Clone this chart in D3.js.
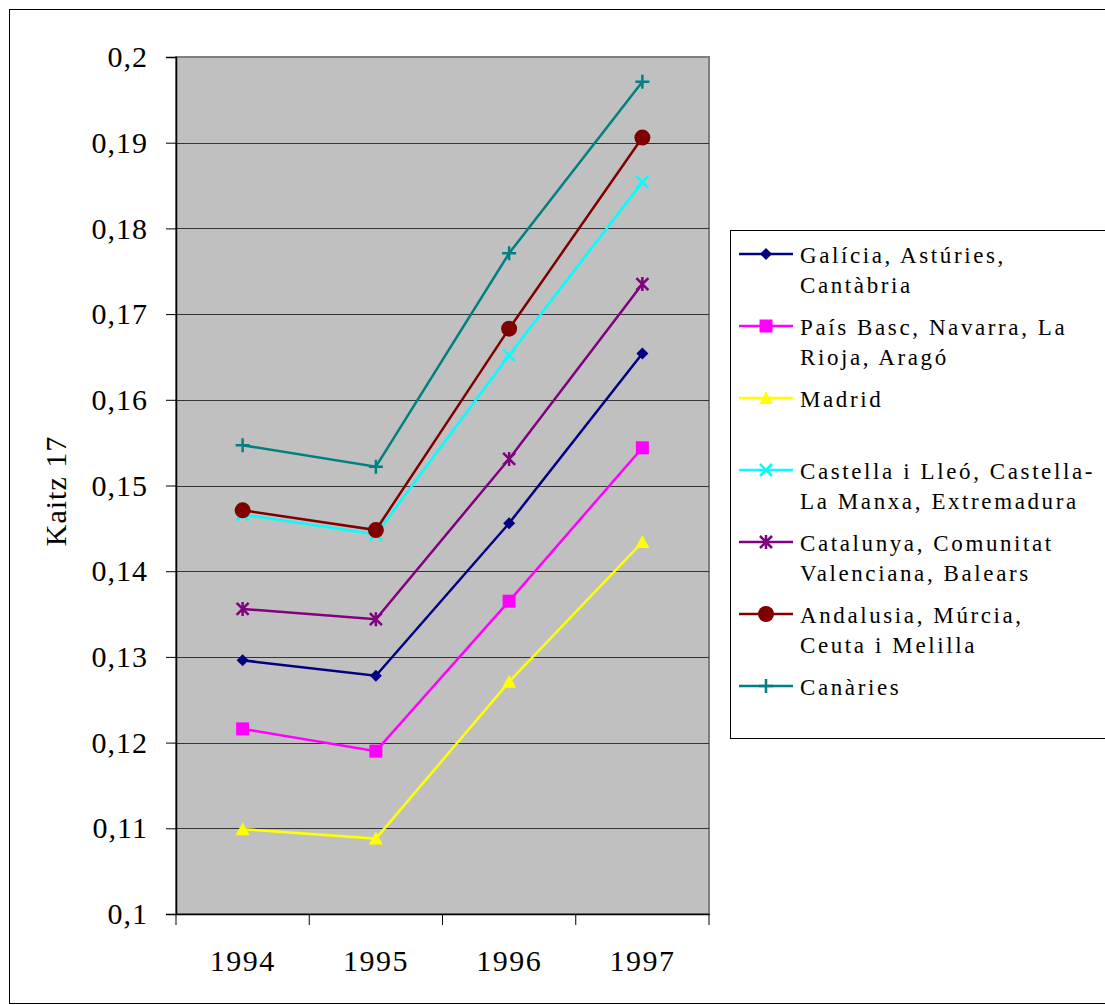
<!DOCTYPE html>
<html><head><meta charset="utf-8">
<script src="https://cdn.jsdelivr.net/npm/d3@7"></script>
<style>body{margin:0;background:#fff} svg text{font-family:'Liberation Serif','Times New Roman',Times,serif !important;}</style>
</head><body>
<script>
const years = ["1994","1995","1996","1997"];
const seriesNames = [
  ["Galícia, Astúries,","Cantàbria"],
  ["País Basc, Navarra, La","Rioja, Aragó"],
  ["Madrid",""],
  ["Castella i Lleó, Castella-","La Manxa, Extremadura"],
  ["Catalunya, Comunitat","Valenciana, Balears"],
  ["Andalusia, Múrcia,","Ceuta i Melilla"],
  ["Canàries",""]
];
const galicia   = [0.1296, 0.1278, 0.1456, 0.1654];
const paisBasc  = [0.1216, 0.1190, 0.1365, 0.1544];
const madrid    = [0.1099, 0.1088, 0.1271, 0.1434];
const castella  = [0.1466, 0.1443, 0.1652, 0.1854];
const catalunya = [0.1356, 0.1344, 0.1531, 0.1735];
const andalusia = [0.1471, 0.1448, 0.1683, 0.1906];
const canaries  = [0.1547, 0.1522, 0.1771, 0.1971];
const yTicks = [0.1,0.11,0.12,0.13,0.14,0.15,0.16,0.17,0.18,0.19,0.2];
const colors = ["#000080","#FF00FF","#FFFF00","#00FFFF","#800080","#800000","#008080"];
const markers = ["diamond","square","triangle","x","star","circle","plus"];
const allValues = [galicia,paisBasc,madrid,castella,catalunya,andalusia,canaries];

const W=1105,H=1005;
const svg=d3.select("body").append("svg").attr("width",W).attr("height",H);
svg.append("rect").attr("x",9.5).attr("y",9.5).attr("width",W).attr("height",H-11).attr("fill","#fff").attr("stroke","#000").attr("stroke-width",1);

const L=176,R=709,T=57,B=914;
const x=d3.scaleBand().domain(years).range([L,R]);
const y=d3.scaleLinear().domain([0.1,0.2]).range([B,T]);

svg.append("rect").attr("x",L).attr("y",T).attr("width",R-L).attr("height",B-T).attr("fill","#C0C0C0").attr("stroke","#808080").attr("stroke-width",2);

svg.append("g").selectAll("line").data(yTicks.slice(1,-1)).join("line")
  .attr("x1",L).attr("x2",R).attr("y1",d=>Math.round(y(d))+0.5).attr("y2",d=>Math.round(y(d))+0.5)
  .attr("stroke","#333").attr("stroke-width",1);

const fmt=d=>d3.format(".2~f")(d).replace(".",",");
const ya=svg.append("g").attr("transform",`translate(${L},0)`)
  .call(d3.axisLeft(y).tickValues(yTicks).tickFormat(fmt).tickSize(10).tickPadding(18));
ya.select(".domain").attr("stroke","#000").attr("stroke-width",1.5);
ya.selectAll(".tick line").attr("stroke","#000");
ya.selectAll("text").attr("font-size",30).attr("letter-spacing",1).attr("fill","#000");

const xa=svg.append("g").attr("transform",`translate(0,${B})`)
  .call(d3.axisBottom(x).tickSize(0).tickPadding(36));
xa.select(".domain").attr("stroke","#000").attr("stroke-width",1.5);
xa.selectAll("text").attr("font-size",30).attr("letter-spacing",1.5).attr("fill","#000");
svg.append("g").selectAll("line").data([0,1,2,3,4]).join("line")
  .attr("x1",i=>L+i*x.step()).attr("x2",i=>L+i*x.step()).attr("y1",B).attr("y2",B+11)
  .attr("stroke","#000").attr("stroke-width",1);

svg.append("text").attr("transform","translate(66,491) rotate(-90)").attr("text-anchor","middle")
  .attr("font-size",30).attr("letter-spacing",1).text("Kaitz 17");

function drawMarker(g,type,color,cx,cy){
  if(type==="diamond") g.append("path").attr("d",`M${cx},${cy-6}L${cx+6},${cy}L${cx},${cy+6}L${cx-6},${cy}Z`).attr("fill",color);
  else if(type==="square") g.append("rect").attr("x",cx-6.5).attr("y",cy-6.5).attr("width",13).attr("height",13).attr("fill",color);
  else if(type==="triangle") g.append("path").attr("d",`M${cx},${cy-7}L${cx+7},${cy+6}L${cx-7},${cy+6}Z`).attr("fill",color);
  else if(type==="circle") g.append("circle").attr("cx",cx).attr("cy",cy).attr("r",8).attr("fill",color);
  else if(type==="x") g.append("path").attr("d",`M${cx-6},${cy-6}L${cx+6},${cy+6}M${cx-6},${cy+6}L${cx+6},${cy-6}`).attr("stroke",color).attr("stroke-width",2.5);
  else if(type==="star") g.append("path").attr("d",`M${cx-6},${cy-6}L${cx+6},${cy+6}M${cx-6},${cy+6}L${cx+6},${cy-6}M${cx},${cy-7}L${cx},${cy+7}`).attr("stroke",color).attr("stroke-width",2.5);
  else if(type==="plus") g.append("path").attr("d",`M${cx-7},${cy}L${cx+7},${cy}M${cx},${cy-7}L${cx},${cy+7}`).attr("stroke",color).attr("stroke-width",2.5);
}

const line=d3.line().x((d,i)=>x(years[i])+x.bandwidth()/2).y(d=>y(d));
allValues.forEach((vals,k)=>{
  const g=svg.append("g");
  g.append("path").attr("d",line(vals)).attr("fill","none").attr("stroke",colors[k]).attr("stroke-width",2.5);
  vals.forEach((v,i)=>drawMarker(g,markers[k],colors[k],x(years[i])+x.bandwidth()/2,y(v)));
});

const lg=svg.append("g");
lg.append("rect").attr("x",730.5).attr("y",230.5).attr("width",400).attr("height",508).attr("fill","#fff").attr("stroke","#000").attr("stroke-width",1);
seriesNames.forEach((nm,k)=>{
  const cy=254+k*72;
  const g=lg.append("g");
  g.append("line").attr("x1",739).attr("x2",793).attr("y1",cy).attr("y2",cy).attr("stroke",colors[k]).attr("stroke-width",2.5);
  drawMarker(g,markers[k],colors[k],766,cy);
  nm.forEach((t,j)=>{
    if(!t) return;
    g.append("text").attr("x",800).attr("y",cy+9+j*30).attr("font-size",23).attr("letter-spacing",2.6).text(t);
  });
});
</script>
</body></html>
